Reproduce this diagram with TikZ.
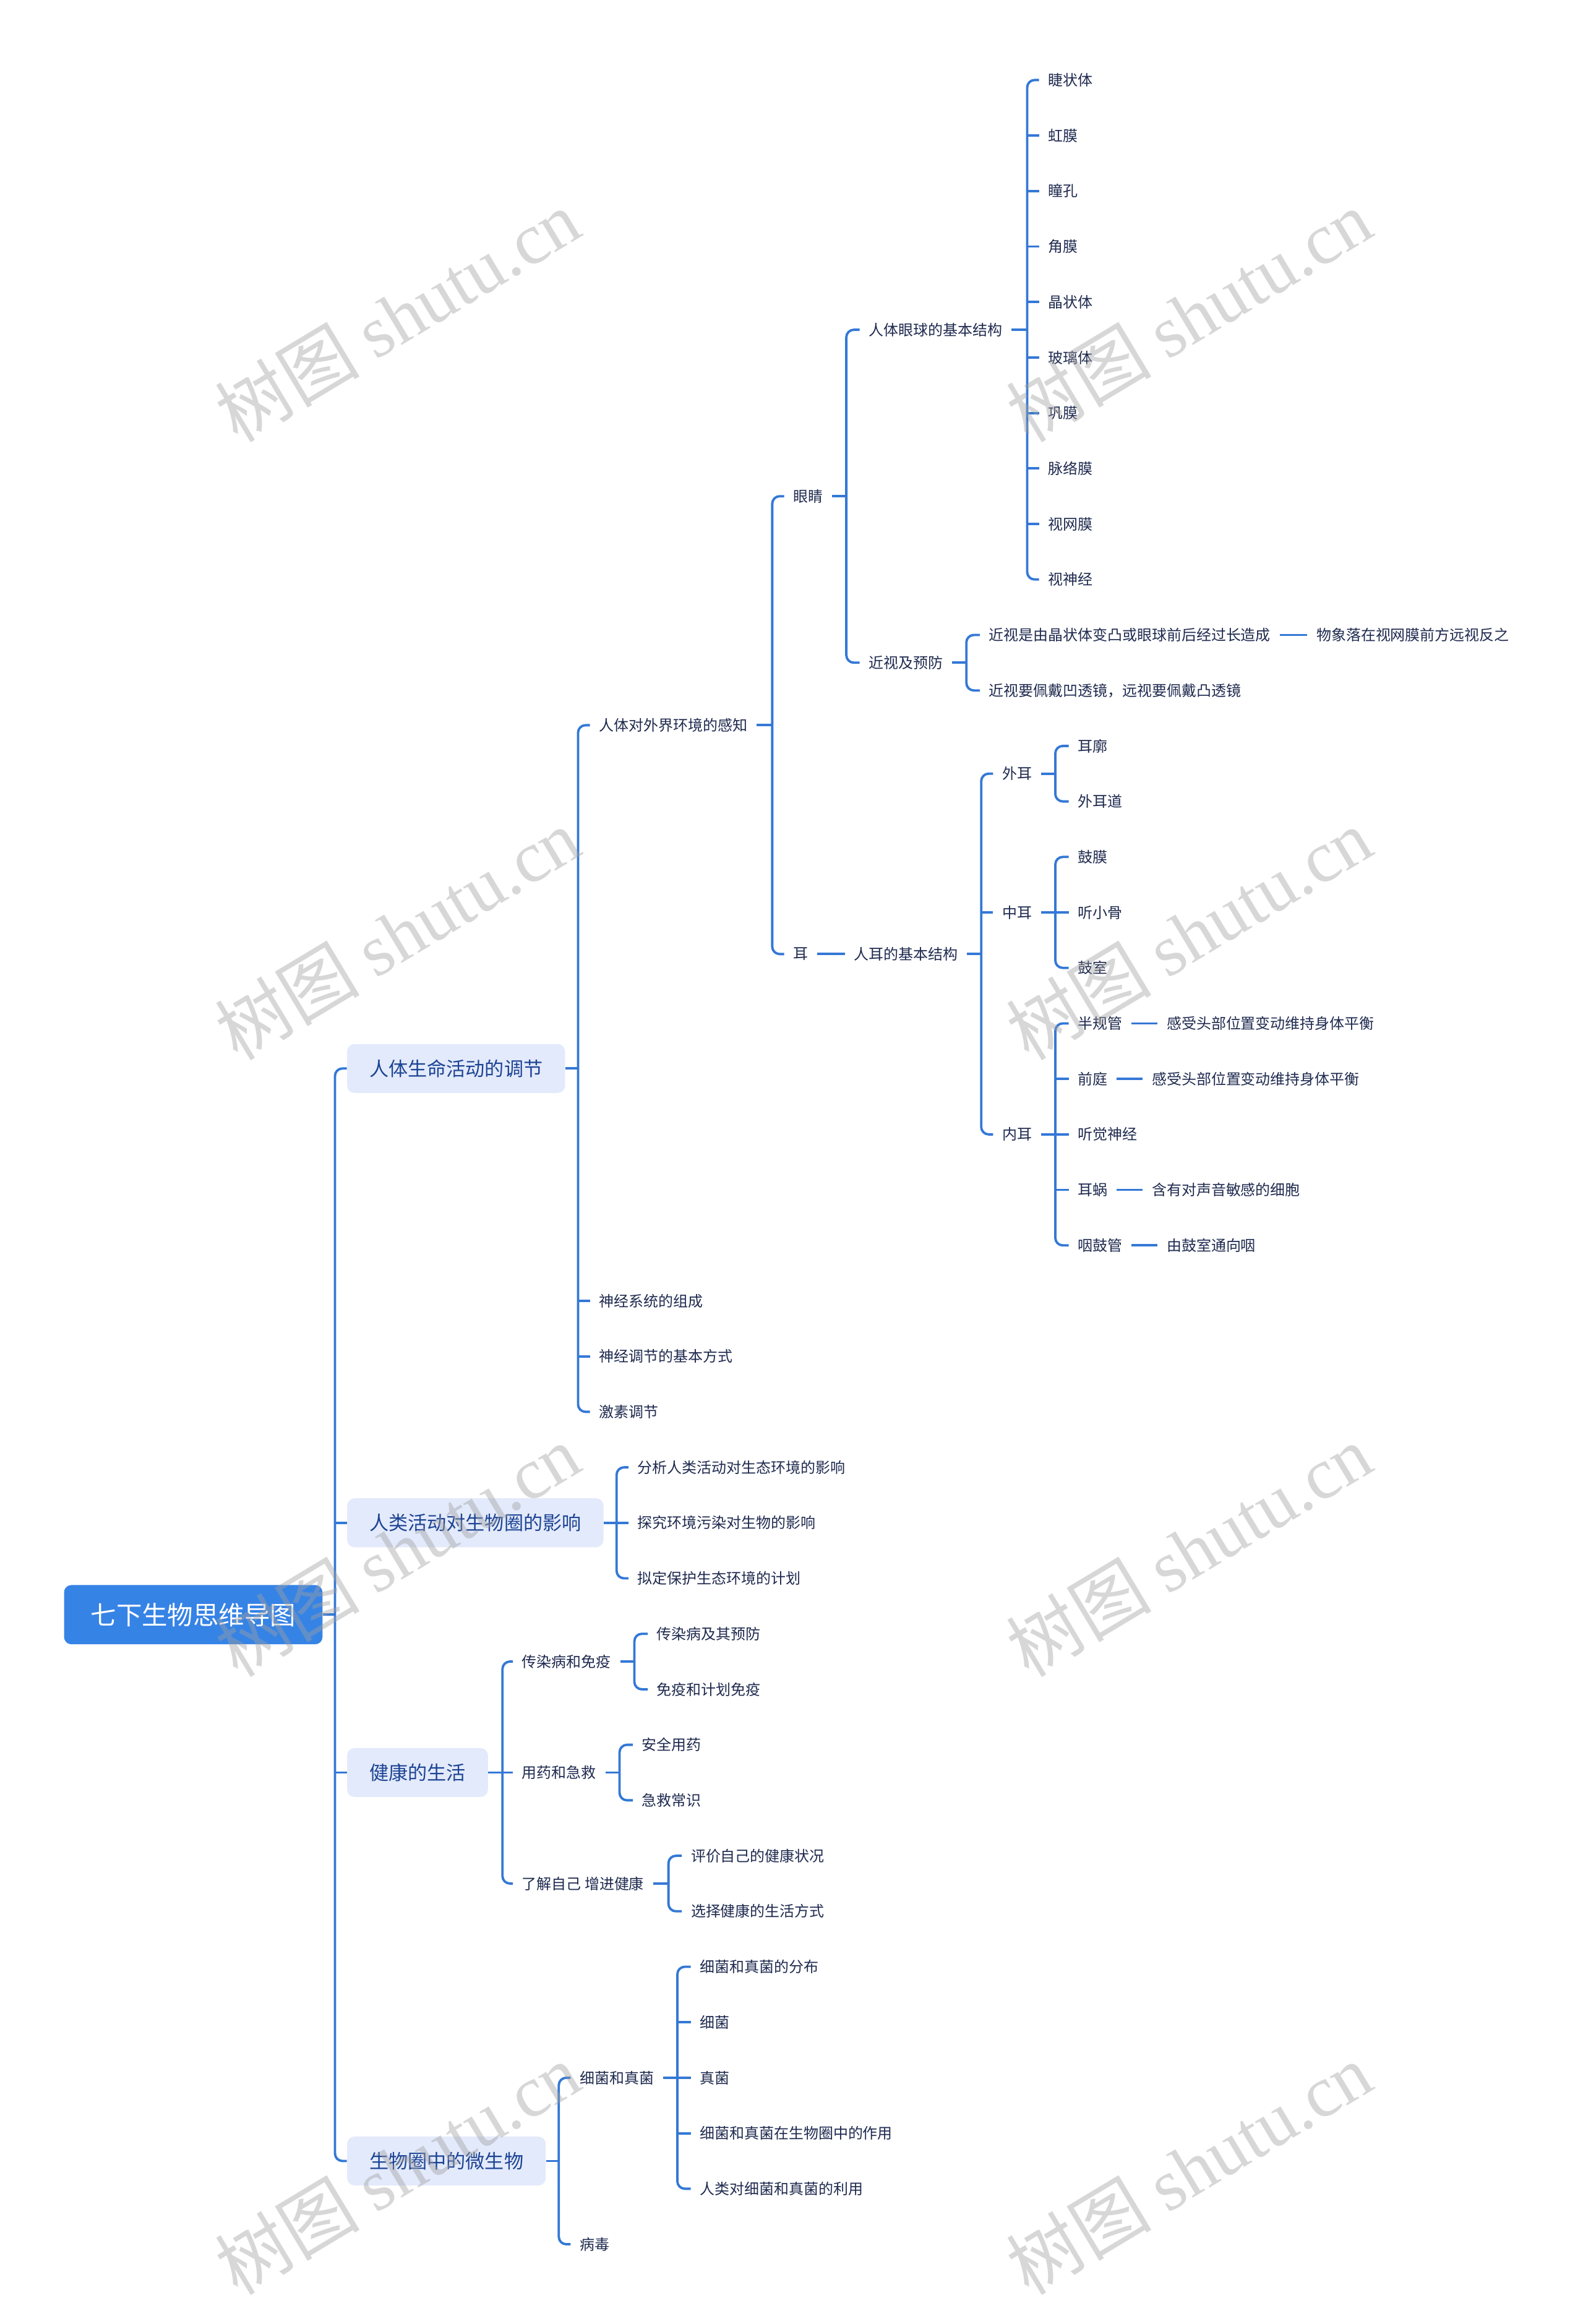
\documentclass[tikz,border=0pt]{standalone}
\usepackage{fontspec}
\setmainfont{Noto Sans CJK SC}
\newfontfamily\wmserif{Liberation Serif}
\definecolor{linec}{HTML}{3478D6}
\definecolor{rootfill}{HTML}{3683E6}
\definecolor{lonefill}{HTML}{E3EAFB}
\definecolor{lonetxt}{HTML}{1D4494}
\definecolor{leaftxt}{HTML}{1F2A4F}
\definecolor{wmgray}{HTML}{A0A0A0}
\newcommand\rowy[1]{54+37.44*#1}
\newcommand\fork[4]{%
  \draw[conn] (#1.east) -- (#1.east -| #2,0);
  \draw[conn,rounded corners=5pt] (#3.west) -- (#3.west -| #2,0) -- (#4.west -| #2,0) -- (#4.west);}
\newcommand\stub[2]{\draw[conn] (#2.west -| #1,0) -- (#2.west);}
\begin{document}
\begin{tikzpicture}[x=1pt,y=-1pt,
  leaf/.style={anchor=west, inner xsep=6pt, inner ysep=2pt, font=\fontsize{10}{12}\selectfont, text=leaftxt},
  lone/.style={anchor=west, fill=lonefill, rounded corners=5pt, inner xsep=15pt, minimum height=33pt, font=\fontsize{13}{15}\selectfont, text=lonetxt},
  rootbox/.style={anchor=west, fill=rootfill, rounded corners=5pt, inner xsep=18pt, minimum height=40pt, font=\fontsize{17.3}{20}\selectfont, text=white},
  conn/.style={draw=linec, line width=1.6pt},
  wm/.style={rotate=31, text=wmgray, opacity=0.42, font=\fontsize{49}{55}\selectfont}]
\fill[white] (0,0) rectangle (1068,1568);
\useasboundingbox (0,0) rectangle (1068,1568);

% root and level 1
\node[rootbox] (root) at (43,1089.4) {七下生物思维导图};
\node[lone] (A) at (234,720.9) {人体生命活动的调节};
\node[lone] (B) at (234,1027.4) {人类活动对生物圈的影响};
\node[lone] (C) at (234,1195.9) {健康的生活};
\node[lone] (D) at (234,1458) {生物圈中的微生物};
\fork{root}{226}{A}{D}
\stub{226}{B}\stub{226}{C}

% A branch
\node[leaf] (A1) at (398,489.3) {人体对外界环境的感知};
\node[leaf] (A2) at (398,{\rowy{22}}) {神经系统的组成};
\node[leaf] (A3) at (398,{\rowy{23}}) {神经调节的基本方式};
\node[leaf] (A4) at (398,{\rowy{24}}) {激素调节};
\fork{A}{390}{A1}{A4}
\stub{390}{A2}\stub{390}{A3}

\node[leaf] (E1) at (529,334.8) {眼睛};
\node[leaf] (E2) at (529,643.7) {耳};
\fork{A1}{521}{E1}{E2}

\node[leaf] (Y1) at (580,222.5) {人体眼球的基本结构};
\node[leaf] (Y2) at (580,447.1) {近视及预防};
\fork{E1}{571}{Y1}{Y2}

\foreach \t [count=\i from 0] in {睫状体,虹膜,瞳孔,角膜,晶状体,玻璃体,巩膜,脉络膜,视网膜,视神经}
  \node[leaf] (ey\i) at (701,{\rowy{\i}}) {\t};
\fork{Y1}{693}{ey0}{ey9}
\foreach \i in {1,...,8} {\stub{693}{ey\i}}

\node[leaf] (M1) at (661,{\rowy{10}}) {近视是由晶状体变凸或眼球前后经过长造成};
\node[leaf] (M2) at (661,{\rowy{11}}) {近视要佩戴凹透镜，远视要佩戴凸透镜};
\node[leaf] (M1a) at (882,{\rowy{10}}) {物象落在视网膜前方远视反之};
\fork{Y2}{652}{M1}{M2}
\draw[conn] (M1.east) -- (M1a.west);

\node[leaf] (H) at (570,643.7) {人耳的基本结构};
\draw[conn] (E2.east) -- (H.west);
\node[leaf] (O1) at (670,{\rowy{12.5}}) {外耳};
\node[leaf] (O2) at (670,{\rowy{15}}) {中耳};
\node[leaf] (O3) at (670,{\rowy{19}}) {内耳};
\fork{H}{662}{O1}{O3}
\stub{662}{O2}

\node[leaf] (W1) at (721,{\rowy{12}}) {耳廓};
\node[leaf] (W2) at (721,{\rowy{13}}) {外耳道};
\fork{O1}{712}{W1}{W2}

\node[leaf] (Z1) at (721,{\rowy{14}}) {鼓膜};
\node[leaf] (Z2) at (721,{\rowy{15}}) {听小骨};
\node[leaf] (Z3) at (721,{\rowy{16}}) {鼓室};
\fork{O2}{712}{Z1}{Z3}
\stub{712}{Z2}

\node[leaf] (N1) at (721,{\rowy{17}}) {半规管};
\node[leaf] (N2) at (721,{\rowy{18}}) {前庭};
\node[leaf] (N3) at (721,{\rowy{19}}) {听觉神经};
\node[leaf] (N4) at (721,{\rowy{20}}) {耳蜗};
\node[leaf] (N5) at (721,{\rowy{21}}) {咽鼓管};
\fork{O3}{712}{N1}{N5}
\stub{712}{N2}\stub{712}{N3}\stub{712}{N4}
\node[leaf] (N1a) at (781,{\rowy{17}}) {感受头部位置变动维持身体平衡};
\node[leaf] (N2a) at (771,{\rowy{18}}) {感受头部位置变动维持身体平衡};
\node[leaf] (N4a) at (771,{\rowy{20}}) {含有对声音敏感的细胞};
\node[leaf] (N5a) at (781,{\rowy{21}}) {由鼓室通向咽};
\draw[conn] (N1.east) -- (N1a.west);
\draw[conn] (N2.east) -- (N2a.west);
\draw[conn] (N4.east) -- (N4a.west);
\draw[conn] (N5.east) -- (N5a.west);

% B branch
\node[leaf] (B1) at (424,{\rowy{25}}) {分析人类活动对生态环境的影响};
\node[leaf] (B2) at (424,{\rowy{26}}) {探究环境污染对生物的影响};
\node[leaf] (B3) at (424,{\rowy{27}}) {拟定保护生态环境的计划};
\fork{B}{416}{B1}{B3}
\stub{416}{B2}

% C branch
\node[leaf] (C1) at (346,{\rowy{28.5}}) {传染病和免疫};
\node[leaf] (C2) at (346,{\rowy{30.5}}) {用药和急救};
\node[leaf] (C3) at (346,{\rowy{32.5}}) {了解自己 增进健康};
\fork{C}{339}{C1}{C3}
\stub{339}{C2}
\node[leaf] (C11) at (437,{\rowy{28}}) {传染病及其预防};
\node[leaf] (C12) at (437,{\rowy{29}}) {免疫和计划免疫};
\fork{C1}{428}{C11}{C12}
\node[leaf] (C21) at (427,{\rowy{30}}) {安全用药};
\node[leaf] (C22) at (427,{\rowy{31}}) {急救常识};
\fork{C2}{418}{C21}{C22}
\node[leaf] (C31) at (460,{\rowy{32}}) {评价自己的健康状况};
\node[leaf] (C32) at (460,{\rowy{33}}) {选择健康的生活方式};
\fork{C3}{451}{C31}{C32}

% D branch
\node[leaf] (D1) at (385,{\rowy{36}}) {细菌和真菌};
\node[leaf] (D2) at (385,{\rowy{39}}) {病毒};
\fork{D}{377}{D1}{D2}
\node[leaf] (D11) at (466,{\rowy{34}}) {细菌和真菌的分布};
\node[leaf] (D12) at (466,{\rowy{35}}) {细菌};
\node[leaf] (D13) at (466,{\rowy{36}}) {真菌};
\node[leaf] (D14) at (466,{\rowy{37}}) {细菌和真菌在生物圈中的作用};
\node[leaf] (D15) at (466,{\rowy{38}}) {人类对细菌和真菌的利用};
\fork{D1}{457}{D11}{D15}
\stub{457}{D12}\stub{457}{D13}\stub{457}{D14}

% watermarks
\foreach \wx/\wy [count=\k] in {268/213,802/213,268/630,802/630,268/1046,802/1046,268/1463,802/1463}
  \node[wm] (wm\k) at (\wx,\wy) {树图 {\wmserif shutu.cn}};
\end{tikzpicture}
\end{document}
